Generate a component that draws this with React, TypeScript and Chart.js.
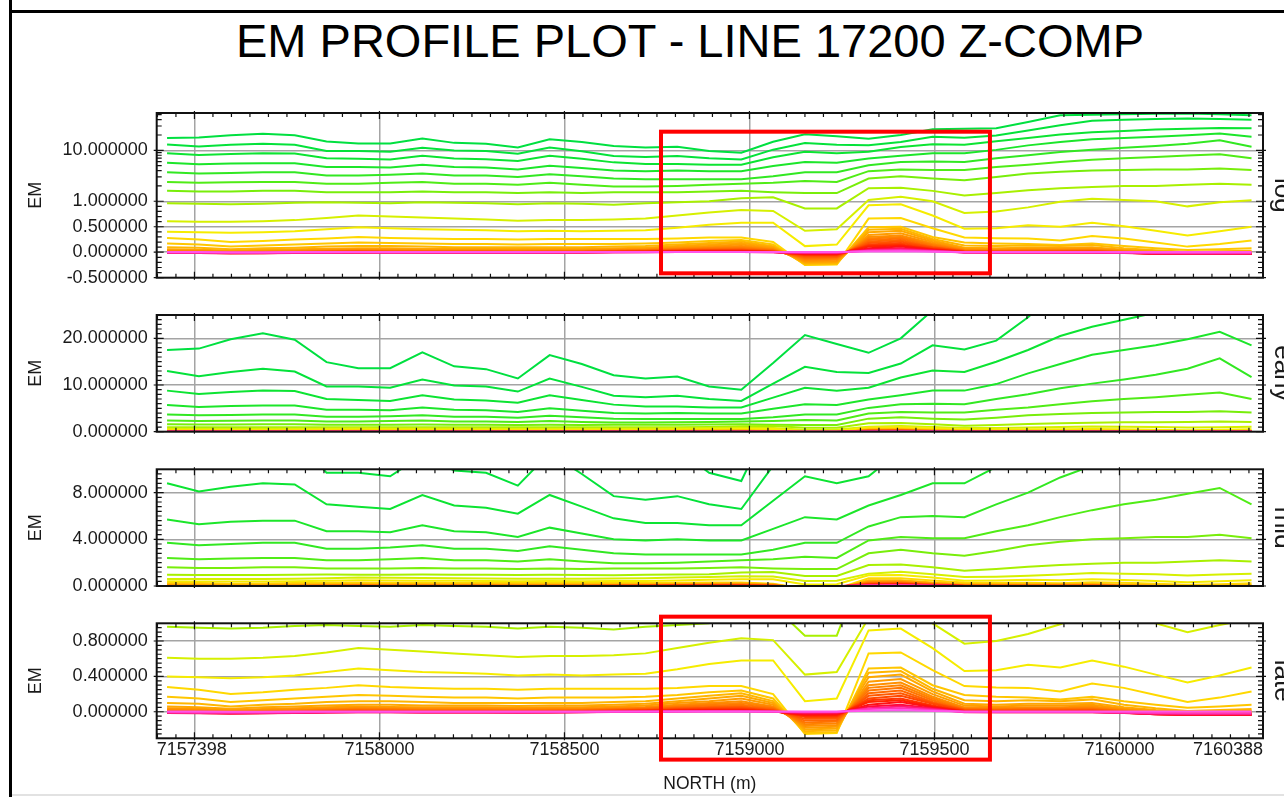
import React, { useEffect, useRef } from "react";
import { Chart, registerables } from "chart.js";

Chart.register(...registerables);

// ---------------- DATA ----------------
const NORTHING = [
  7157426, 7157512, 7157598, 7157685, 7157771,
  7157857, 7157943, 7158029, 7158116, 7158202,
  7158288, 7158374, 7158460, 7158547, 7158633,
  7158719, 7158805, 7158891, 7158978, 7159064,
  7159150, 7159236, 7159322, 7159409, 7159495,
  7159581, 7159667, 7159753, 7159840, 7159926,
  7160012, 7160098, 7160184, 7160271, 7160357,
];

const CH00 = [17.5, 17.8, 19.8, 21.1, 19.7, 14.9, 13.6, 13.6, 17.0, 14.0, 13.4, 11.4, 16.4, 14.5, 12.1, 11.4, 11.8, 9.7, 9.0, 14.7, 20.7, 18.8, 16.9, 20.0, 26.0, 26.5, 27.0, 36.0, 49.0, 50.0, 51.0, 52.0, 53.0, 51.0, 49.0];
const CH01 = [13.0, 11.9, 12.8, 13.5, 12.9, 9.7, 9.7, 9.4, 11.2, 9.9, 9.7, 8.6, 11.4, 9.6, 7.7, 7.4, 7.7, 7.0, 6.6, 10.3, 13.9, 12.8, 12.6, 14.6, 18.5, 17.6, 19.5, 24.5, 31.0, 38.0, 40.0, 41.0, 42.0, 41.0, 40.0];
const CH02 = [8.8, 8.1, 8.5, 8.8, 8.7, 7.0, 6.8, 6.6, 7.8, 6.9, 6.7, 6.2, 7.8, 6.8, 5.8, 5.4, 5.4, 5.2, 5.2, 7.3, 9.4, 8.8, 9.4, 11.6, 13.1, 12.8, 15.0, 17.5, 20.5, 22.5, 24.0, 25.5, 26.5, 27.5, 27.0];
const CH03 = [5.7, 5.3, 5.5, 5.6, 5.6, 4.7, 4.7, 4.6, 5.2, 4.7, 4.6, 4.2, 5.0, 4.5, 4.0, 3.9, 4.0, 3.9, 3.9, 4.9, 5.9, 5.7, 6.9, 7.8, 8.8, 8.8, 10.2, 12.5, 14.5, 16.5, 17.5, 18.5, 19.8, 21.4, 18.5];
const CH04 = [3.7, 3.5, 3.6, 3.7, 3.7, 3.2, 3.2, 3.3, 3.5, 3.2, 3.2, 3.0, 3.4, 3.1, 2.8, 2.7, 2.7, 2.7, 2.7, 3.1, 3.7, 3.7, 5.1, 5.9, 6.0, 5.9, 7.0, 8.0, 9.3, 10.3, 11.2, 12.2, 13.5, 15.7, 11.7];
const CH05 = [2.4, 2.3, 2.35, 2.4, 2.4, 2.2, 2.2, 2.3, 2.4, 2.2, 2.2, 2.1, 2.3, 2.1, 1.95, 1.95, 2.0, 2.1, 2.2, 2.3, 2.5, 2.4, 3.9, 4.2, 4.1, 4.1, 4.7, 5.2, 5.9, 6.5, 7.0, 7.4, 7.9, 8.4, 7.0];
const CH06 = [1.6, 1.55, 1.55, 1.6, 1.6, 1.5, 1.5, 1.5, 1.55, 1.5, 1.5, 1.45, 1.5, 1.45, 1.5, 1.5, 1.5, 1.55, 1.6, 1.5, 1.45, 1.45, 2.8, 3.1, 2.8, 2.6, 3.0, 3.5, 3.8, 4.0, 4.1, 4.2, 4.2, 4.4, 4.1];
const CH07 = [0.96, 0.95, 0.94, 0.95, 0.97, 0.98, 0.97, 0.96, 0.98, 0.97, 0.96, 0.94, 0.96, 0.95, 0.93, 0.96, 0.98, 1.0, 1.15, 1.2, 0.86, 0.86, 1.8, 1.85, 1.6, 1.3, 1.45, 1.65, 1.8, 1.9, 2.0, 2.0, 2.1, 2.2, 2.1];
const CH08 = [0.61, 0.60, 0.60, 0.61, 0.63, 0.67, 0.72, 0.70, 0.68, 0.66, 0.64, 0.62, 0.63, 0.63, 0.64, 0.66, 0.72, 0.78, 0.83, 0.81, 0.42, 0.45, 1.06, 1.23, 1.0, 0.77, 0.80, 0.88, 0.99, 1.12, 1.06, 1.0, 0.90, 0.98, 1.05];
const CH09 = [0.40, 0.39, 0.38, 0.39, 0.41, 0.45, 0.49, 0.47, 0.45, 0.44, 0.43, 0.41, 0.42, 0.41, 0.42, 0.43, 0.48, 0.54, 0.58, 0.58, 0.12, 0.15, 0.92, 0.94, 0.72, 0.46, 0.47, 0.53, 0.50, 0.58, 0.51, 0.42, 0.33, 0.41, 0.50];
const CH10 = [0.28, 0.25, 0.20, 0.22, 0.25, 0.27, 0.30, 0.28, 0.27, 0.26, 0.26, 0.25, 0.26, 0.26, 0.26, 0.26, 0.27, 0.29, 0.29, 0.20, -0.25, -0.24, 0.66, 0.67, 0.47, 0.29, 0.275, 0.27, 0.23, 0.32, 0.27, 0.19, 0.11, 0.16, 0.23];
const CH11 = [0.17, 0.15, 0.11, 0.13, 0.15, 0.17, 0.19, 0.18, 0.17, 0.16, 0.16, 0.15, 0.16, 0.16, 0.16, 0.17, 0.19, 0.22, 0.24, 0.15, -0.24, -0.23, 0.49, 0.50, 0.30, 0.19, 0.17, 0.16, 0.14, 0.17, 0.12, 0.08, 0.045, 0.06, 0.08];
const CH12 = [0.10, 0.09, 0.06, 0.08, 0.09, 0.11, 0.12, 0.12, 0.11, 0.10, 0.10, 0.10, 0.10, 0.10, 0.11, 0.12, 0.15, 0.18, 0.21, 0.12, -0.22, -0.21, 0.44, 0.46, 0.26, 0.13, 0.12, 0.13, 0.12, 0.14, 0.08, 0.04, 0.01, 0.02, 0.03];
const CH13 = [0.06, 0.05, 0.035, 0.05, 0.06, 0.07, 0.08, 0.08, 0.07, 0.07, 0.07, 0.065, 0.07, 0.07, 0.08, 0.09, 0.12, 0.15, 0.18, 0.10, -0.20, -0.19, 0.39, 0.42, 0.23, 0.09, 0.08, 0.09, 0.09, 0.10, 0.05, 0.02, 0.0, 0.01, 0.015];
const CH14 = [0.04, 0.035, 0.02, 0.03, 0.04, 0.05, 0.06, 0.055, 0.05, 0.05, 0.05, 0.045, 0.05, 0.05, 0.06, 0.07, 0.10, 0.12, 0.15, 0.08, -0.18, -0.17, 0.34, 0.37, 0.20, 0.07, 0.06, 0.07, 0.07, 0.08, 0.035, 0.01, -0.01, 0.0, 0.005];
const CH15 = [0.025, 0.02, 0.01, 0.02, 0.025, 0.035, 0.045, 0.04, 0.035, 0.035, 0.035, 0.03, 0.035, 0.035, 0.045, 0.055, 0.08, 0.10, 0.12, 0.06, -0.16, -0.15, 0.30, 0.33, 0.17, 0.05, 0.045, 0.05, 0.05, 0.06, 0.025, 0.0, -0.02, -0.01, -0.005];
const CH16 = [0.015, 0.012, 0.005, 0.01, 0.015, 0.025, 0.035, 0.03, 0.025, 0.025, 0.025, 0.02, 0.025, 0.025, 0.035, 0.045, 0.065, 0.085, 0.10, 0.05, -0.14, -0.13, 0.27, 0.30, 0.15, 0.04, 0.035, 0.04, 0.04, 0.045, 0.015, -0.01, -0.025, -0.02, -0.015];
const CH17 = [0.01, 0.008, 0.0, 0.005, 0.01, 0.018, 0.025, 0.022, 0.018, 0.018, 0.018, 0.015, 0.018, 0.02, 0.028, 0.038, 0.055, 0.07, 0.08, 0.04, -0.12, -0.11, 0.24, 0.27, 0.13, 0.03, 0.025, 0.03, 0.03, 0.035, 0.01, -0.015, -0.03, -0.025, -0.02];
const CH18 = [0.005, 0.004, -0.005, 0.0, 0.005, 0.012, 0.018, 0.015, 0.012, 0.012, 0.012, 0.01, 0.012, 0.015, 0.022, 0.03, 0.045, 0.055, 0.06, 0.03, -0.10, -0.095, 0.21, 0.24, 0.11, 0.025, 0.02, 0.022, 0.022, 0.025, 0.005, -0.02, -0.03, -0.03, -0.025];
const CH19 = [0.0, 0.0, -0.008, -0.004, 0.0, 0.008, 0.012, 0.01, 0.008, 0.008, 0.008, 0.006, 0.008, 0.01, 0.017, 0.024, 0.036, 0.045, 0.05, 0.02, -0.08, -0.078, 0.18, 0.21, 0.10, 0.02, 0.015, 0.016, 0.016, 0.018, 0.0, -0.02, -0.03, -0.03, -0.03];
const CH20 = [-0.005, -0.005, -0.012, -0.008, -0.004, 0.004, 0.008, 0.006, 0.004, 0.004, 0.004, 0.002, 0.004, 0.006, 0.012, 0.018, 0.028, 0.036, 0.04, 0.015, -0.06, -0.06, 0.15, 0.18, 0.09, 0.015, 0.01, 0.01, 0.01, 0.012, -0.005, -0.025, -0.035, -0.035, -0.03];
const CH21 = [-0.01, -0.01, -0.015, -0.012, -0.008, 0.0, 0.004, 0.002, 0.0, 0.0, 0.0, -0.002, 0.0, 0.003, 0.008, 0.013, 0.022, 0.028, 0.03, 0.01, -0.05, -0.048, 0.13, 0.15, 0.07, 0.01, 0.005, 0.005, 0.005, 0.006, -0.008, -0.025, -0.035, -0.035, -0.035];
const CH22 = [-0.012, -0.012, -0.018, -0.015, -0.01, -0.003, 0.0, -0.002, -0.003, -0.003, -0.003, -0.005, -0.003, 0.0, 0.005, 0.009, 0.016, 0.021, 0.02, 0.006, -0.04, -0.038, 0.11, 0.13, 0.06, 0.005, 0.0, 0.0, 0.0, 0.0, -0.01, -0.028, -0.035, -0.035, -0.035];
const CH23 = [-0.015, -0.015, -0.02, -0.018, -0.012, -0.006, -0.003, -0.004, -0.005, -0.005, -0.005, -0.008, -0.005, -0.003, 0.002, 0.005, 0.011, 0.015, 0.015, 0.004, -0.03, -0.028, 0.08, 0.11, 0.05, 0.0, -0.004, -0.004, -0.004, -0.004, -0.012, -0.028, -0.035, -0.035, -0.035];
const CH24 = [-0.015, -0.016, -0.02, -0.018, -0.014, -0.008, -0.005, -0.006, -0.007, -0.007, -0.007, -0.009, -0.007, -0.005, 0.0, 0.003, 0.007, 0.01, 0.01, 0.002, -0.02, -0.018, 0.06, 0.08, 0.04, -0.004, -0.006, -0.006, -0.006, -0.006, -0.014, -0.028, -0.033, -0.033, -0.033];
const CH25 = [-0.012, -0.013, -0.016, -0.015, -0.012, -0.008, -0.005, -0.006, -0.007, -0.007, -0.007, -0.008, -0.007, -0.005, -0.002, 0.0, 0.004, 0.006, 0.006, 0.0, -0.01, -0.009, 0.04, 0.06, 0.03, -0.005, -0.006, -0.006, -0.006, -0.006, -0.012, -0.022, -0.026, -0.026, -0.026];
const CH26 = [-0.006, -0.007, -0.009, -0.008, -0.006, -0.004, -0.002, -0.003, -0.004, -0.004, -0.004, -0.005, -0.004, -0.002, 0.0, 0.0, 0.002, 0.003, 0.003, 0.0, -0.004, -0.004, 0.03, 0.04, 0.02, -0.003, -0.004, -0.004, -0.004, -0.004, -0.008, -0.014, -0.016, -0.016, -0.016];
const CH27 = [0.002, 0.002, 0.001, 0.001, 0.002, 0.002, 0.003, 0.003, 0.002, 0.002, 0.002, 0.002, 0.002, 0.002, 0.003, 0.003, 0.004, 0.004, 0.004, 0.003, 0.002, 0.002, 0.012, 0.02, 0.01, 0.003, 0.003, 0.003, 0.003, 0.003, 0.002, 0.002, 0.002, 0.002, 0.002];

const CHANNELS = [CH00, CH01, CH02, CH03, CH04, CH05, CH06, CH07, CH08, CH09, CH10, CH11, CH12, CH13, CH14, CH15, CH16, CH17, CH18, CH19, CH20, CH21, CH22, CH23, CH24, CH25, CH26, CH27];

const X_MIN = 7157398;
const X_MAX = 7160388;
const X_TICKS = [7157398, 7157500, 7158000, 7158500, 7159000, 7159500, 7160000, 7160388];
const X_LABELS = ["7157398", "", "7158000", "7158500", "7159000", "7159500", "7160000", "7160388"];

const LOG_TICKS = [-0.5, 0, 0.5, 1, 10];
const EARLY_TICKS = [0, 10, 20];
const MID_TICKS = [0, 4, 8];
const LATE_TICKS = [0, 0.4, 0.8];

const LOG_RANGE = [-0.5, 54];
const EARLY_RANGE = [0, 25];
const MID_RANGE = [0, 10];
const LATE_RANGE = [-0.3, 1.0];

const PANEL_NAMES = ["log", "early", "mid", "late"];
const TITLE = "EM PROFILE PLOT - LINE 17200 Z-COMP";
const Y_TITLE = "EM";
const X_TITLE = "NORTH (m)";

// highlight boxes (data units)
const BOX_NORTH = [7158761, 7159650];
const BOX_LOG = [-0.414, 23.2];
const BOX_LATE = [-0.541, 1.075];

// ---------------- STYLE ----------------
const CHANNEL_COLORS = [
  "#00e040", "#04e23a", "#0ce432", "#1ce62a", "#32e822", "#50ec16", "#78ee0a", "#a8f000", "#d6f000", "#f6ec00",
  "#ffd800", "#ffc600", "#ffb600", "#ffa800", "#ff9c00", "#ff9000", "#ff8400", "#ff7600", "#ff6800", "#ff5800",
  "#ff4800", "#ff3600", "#ff2400", "#ff1212", "#ff0a3a", "#ff1878", "#ff34b8", "#ff54ec",
];
const FONT = '"Liberation Sans", Arial, Helvetica, sans-serif';
const TXT = "#1a1a1a";
const GRID = "#a4a4a4";
const CANVAS_W = 1310;
const AREA_LEFT = 156.7;
const AREA_RIGHT = 1263;

const linlog = (v: number) => (v <= 1 ? v : 1 + Math.log10(v));
const unlinlog = (f: number) => (f <= 1 ? f : Math.pow(10, f - 1));
const ident = (v: number) => v;

function range(a: number, b: number, step: number, skip: number[]) {
  const out: number[] = [];
  const n = Math.round((b - a) / step);
  for (let i = 0; i <= n; i++) {
    const v = +(a + i * step).toFixed(6);
    if (!skip.some((s) => Math.abs(s - v) < 1e-9)) out.push(v);
  }
  return out;
}

const PANELS = [
  {
    name: PANEL_NAMES[0], log: true, ticks: LOG_TICKS, range: LOG_RANGE,
    top: 100, height: 190, padTop: 13, padBottom: 12.3, xAxisH: 0, showX: false,
    minor: [...range(-0.4, 0.9, 0.1, [0, 0.5]), ...[2, 3, 4, 5, 6, 7, 8, 9, 20, 30, 40, 50]],
    box: BOX_LOG,
  },
  {
    name: PANEL_NAMES[1], log: false, ticks: EARLY_TICKS, range: EARLY_RANGE,
    top: 300, height: 145, padTop: 15, padBottom: 13.3, xAxisH: 0, showX: false,
    minor: range(1, 24, 1, [10, 20]), box: null,
  },
  {
    name: PANEL_NAMES[2], log: false, ticks: MID_TICKS, range: MID_RANGE,
    top: 455, height: 145, padTop: 14.3, padBottom: 14, xAxisH: 0, showX: false,
    minor: range(0.4, 9.6, 0.4, [4, 8]), box: null,
  },
  {
    name: PANEL_NAMES[3], log: false, ticks: LATE_TICKS, range: LATE_RANGE,
    top: 600, height: 197, padTop: 23.3, padBottom: 0, xAxisH: 58.7, showX: true,
    minor: range(-0.25, 0.95, 0.05, [0, 0.4, 0.8]), box: BOX_LATE,
  },
];

const X_MINOR = range(7157400, 7160350, 50, []).filter((v) => (v - 7157500) % 500 !== 0);
const X_MAJOR = range(7157500, 7160000, 500, []);

function makeFramePlugin(p: any) {
  const tf = p.log ? linlog : ident;
  return {
    id: "frameTicks" + p.name,
    afterDraw(chart: any) {
      const { ctx, chartArea: a, scales } = chart;
      const xs = scales.x;
      const ys = scales.y;
      ctx.save();
      ctx.strokeStyle = "#111";
      ctx.lineWidth = 1.2;
      ctx.beginPath();
      X_MINOR.forEach((v) => {
        const px = xs.getPixelForValue(v);
        ctx.moveTo(px, a.top); ctx.lineTo(px, a.top + 4);
        ctx.moveTo(px, a.bottom); ctx.lineTo(px, a.bottom - 4);
      });
      X_MAJOR.forEach((v) => {
        const px = xs.getPixelForValue(v);
        ctx.moveTo(px, a.top - 2); ctx.lineTo(px, a.top + 6);
        ctx.moveTo(px, a.bottom + 2); ctx.lineTo(px, a.bottom - 6);
      });
      p.minor.forEach((v: number) => {
        const py = ys.getPixelForValue(tf(v));
        ctx.moveTo(a.left, py); ctx.lineTo(a.left + 5, py);
        ctx.moveTo(a.right, py); ctx.lineTo(a.right - 5, py);
      });
      p.ticks.forEach((v: number) => {
        const py = ys.getPixelForValue(tf(v));
        ctx.moveTo(a.left - 3, py); ctx.lineTo(a.left + 7, py);
        ctx.moveTo(a.right + 3, py); ctx.lineTo(a.right - 7, py);
      });
      ctx.stroke();
      ctx.lineWidth = 2;
      ctx.strokeRect(a.left, a.top, a.right - a.left, a.bottom - a.top);
      if (p.box) {
        const x0 = xs.getPixelForValue(BOX_NORTH[0]);
        const x1 = xs.getPixelForValue(BOX_NORTH[1]);
        const y0 = ys.getPixelForValue(tf(p.box[1]));
        const y1 = ys.getPixelForValue(tf(p.box[0]));
        ctx.strokeStyle = "#ff0000";
        ctx.lineWidth = 4;
        ctx.strokeRect(x0, y0, x1 - x0, y1 - y0);
      }
      ctx.restore();
    },
  };
}

function buildConfig(p: any): any {
  const tf = p.log ? linlog : ident;
  const inv = p.log ? unlinlog : ident;
  const yMin = tf(p.range[0]);
  const yMax = tf(p.range[1]);
  const datasets = CHANNELS.map((vals, i) => ({
    label: "CH" + i,
    data: vals.map((v, k) => ({ x: NORTHING[k], y: tf(v) })),
    borderColor: CHANNEL_COLORS[i],
    backgroundColor: CHANNEL_COLORS[i],
    borderWidth: 2,
    pointRadius: 0,
    fill: false,
    tension: 0,
    xAxisID: "x",
    yAxisID: "y",
    order: CHANNELS.length - 1 - i,
  }));
  const tickFont = { family: FONT, size: 18 };
  return {
    type: "line",
    data: { datasets },
    options: {
      responsive: false,
      animation: false,
      devicePixelRatio: 1,
      events: [],
      layout: { autoPadding: false, padding: { left: 0, right: 0, top: p.padTop, bottom: p.padBottom } },
      plugins: { legend: { display: false }, tooltip: { enabled: false }, title: { display: false } },
      scales: {
        x: {
          type: "linear",
          position: "bottom",
          min: X_MIN,
          max: X_MAX,
          afterBuildTicks: (s: any) => { s.ticks = X_TICKS.map((v) => ({ value: v })); },
          afterFit: (s: any) => { s.height = p.xAxisH; s.paddingLeft = 0; s.paddingRight = 0; },
          grid: {
            color: (c: any) => (c.tick && (c.tick.value === X_MIN || c.tick.value === X_MAX) ? "rgba(0,0,0,0)" : GRID),
            lineWidth: 1.5,
            drawTicks: false,
          },
          border: { display: false },
          ticks: {
            display: p.showX, autoSkip: false, maxRotation: 0, minRotation: 0, align: "inner",
            padding: 1, color: TXT, font: tickFont,
            callback: (_v: any, i: number) => X_LABELS[i],
          },
          title: { display: p.showX, text: X_TITLE, color: TXT, font: { family: FONT, size: 17.5 }, padding: { top: 0, bottom: 2.8 } },
        },
        y: {
          type: "linear",
          position: "left",
          min: yMin,
          max: yMax,
          afterBuildTicks: (s: any) => { s.ticks = p.ticks.map((v: number) => ({ value: tf(v) })); },
          afterFit: (s: any) => { s.width = AREA_LEFT; s.paddingTop = 0; s.paddingBottom = 0; },
          grid: {
            color: (c: any) => (c.tick && Math.abs(c.tick.value - yMin) < 1e-9 ? "rgba(0,0,0,0)" : GRID),
            lineWidth: 1.5,
            drawTicks: false,
          },
          border: { display: false },
          ticks: { padding: 9, color: TXT, font: tickFont, callback: (v: number) => inv(v).toFixed(6) },
          title: { display: true, text: Y_TITLE, color: TXT, font: { family: FONT, size: 18 }, padding: { top: 25.5, bottom: 0 } },
        },
        yR: {
          type: "linear",
          position: "right",
          display: true,
          afterFit: (s: any) => { s.width = CANVAS_W - AREA_RIGHT; s.paddingTop = 0; s.paddingBottom = 0; },
          grid: { display: false, drawOnChartArea: false },
          border: { display: false },
          ticks: { display: false },
          title: { display: true, text: p.name, color: TXT, font: { family: FONT, size: 26 }, padding: { top: 12.5, bottom: 0 } },
        },
      },
    },
    plugins: [makeFramePlugin(p)],
  };
}

function Panel({ idx }: { idx: number }) {
  const ref = useRef<HTMLCanvasElement>(null);
  const p = PANELS[idx];
  useEffect(() => {
    if (!ref.current) return;
    const chart = new Chart(ref.current, buildConfig(p));
    return () => chart.destroy();
  }, [idx]);
  return (
    <canvas
      ref={ref}
      width={CANVAS_W}
      height={p.height}
      style={{ position: "absolute", left: 0, top: p.top, width: CANVAS_W, height: p.height, display: "block" }}
    />
  );
}

export default function App() {
  useEffect(() => {
    document.body.style.margin = "0";
  }, []);
  return (
    <div style={{ position: "fixed", left: 0, top: 0, width: 1284, height: 797, overflow: "hidden", background: "#fff" }}>
      <div style={{ position: "absolute", left: 9, top: 0, width: 3, height: 797, background: "#000" }} />
      <div style={{ position: "absolute", left: 9, top: 10, width: 1275, height: 3, background: "#000" }} />
      <div style={{ position: "absolute", left: 12, top: 794, width: 1272, height: 2, background: "#e2e2e2" }} />
      <div
        style={{
          position: "absolute", left: 0, top: 17, width: 1380, textAlign: "center",
          fontFamily: FONT, fontSize: 47, lineHeight: "47px", color: "#000", whiteSpace: "nowrap",
        }}
      >
        {TITLE}
      </div>
      {PANELS.map((_, i) => (
        <Panel key={i} idx={i} />
      ))}
    </div>
  );
}
